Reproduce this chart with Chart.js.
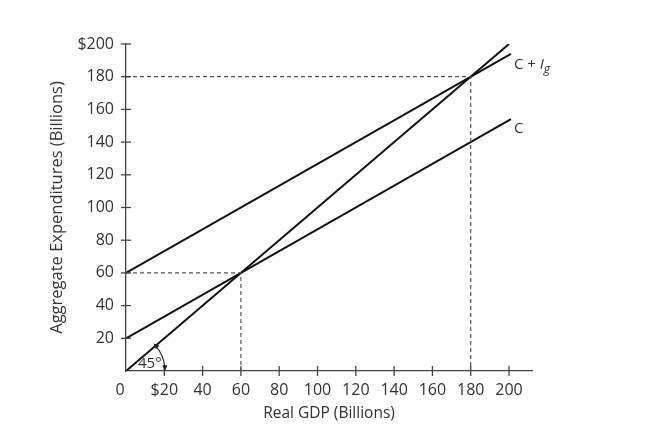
<!DOCTYPE html>
<html>
<head>
<meta charset="utf-8">
<script src="https://cdn.jsdelivr.net/npm/chart.js@4.4.1/dist/chart.umd.min.js"></script>
<style>
  html, body { margin: 0; padding: 0; background: #fff; }
  #wrap { width: 653px; height: 436px; position: relative; }
</style>
</head>
<body>
<div id="wrap"><canvas id="aeChart"></canvas></div>
<script>
// du lieu doc tu hinh
const gdpEnds = [0, 201];
const consumption = [20, 154];
const consumptionPlusInv = [60, 194];
const line45 = [0, 200];
const equilibria = [60, 180];
const xTicks = [20, 40, 60, 80, 100, 120, 140, 160, 180, 200];
const yTicks = [20, 40, 60, 80, 100, 120, 140, 160, 180, 200];

const FONT = '"Open Sans", sans-serif';
const TXT = '#333';

function toPts(xs, ys) {
    return xs.map((x, i) => ({ x: x, y: ys[i] }));
}

function dashPath(v) {
    return [{ x: 0, y: v }, { x: v, y: v }, { x: v, y: 0 }];
}

// ve vach chia cat qua truc, nhan duong va goc 45
const extras = {
    id: 'extras',
    afterDatasetsDraw(chart) {
        const ctx = chart.ctx;
        const xs = chart.scales.x, ys = chart.scales.y;
        const x0 = xs.getPixelForValue(0), y0 = ys.getPixelForValue(0);
        ctx.save();
        ctx.strokeStyle = '#444';
        ctx.lineWidth = 1.3;
        xTicks.forEach(v => {
            const px = xs.getPixelForValue(v);
            ctx.beginPath(); ctx.moveTo(px, y0 - 5); ctx.lineTo(px, y0 + 5); ctx.stroke();
        });
        yTicks.forEach(v => {
            const py = ys.getPixelForValue(v);
            ctx.beginPath(); ctx.moveTo(x0 - 5, py); ctx.lineTo(x0 + 5, py); ctx.stroke();
        });

        // so 0 o goc, lech trai mot chut
        ctx.fillStyle = TXT;
        ctx.font = '16px ' + FONT;
        ctx.textAlign = 'center';
        ctx.textBaseline = 'top';
        ctx.fillText('0', x0 - 6, y0 + 11);
        ctx.textAlign = 'left';

        // nhan C va C + Ig
        ctx.font = '15px ' + FONT;
        ctx.textBaseline = 'middle';
        const cx = xs.getPixelForValue(gdpEnds[1]) + 3;
        const cy = ys.getPixelForValue(consumption[1]) + 10;
        ctx.fillText('C', cx, cy);
        const ix = cx;
        const iy = ys.getPixelForValue(consumptionPlusInv[1]) + 11;
        ctx.fillText('C + ', ix, iy);
        let w = ctx.measureText('C + ').width;
        ctx.font = 'italic 15px ' + FONT;
        ctx.fillText('I', ix + w, iy);
        w += ctx.measureText('I').width;
        ctx.font = 'italic 12px ' + FONT;
        ctx.fillText('g', ix + w, iy + 5);

        // cung 45 do
        const r = 39;
        const a1 = -Math.PI / 4;
        ctx.strokeStyle = '#222';
        ctx.lineWidth = 1.1;
        ctx.beginPath();
        ctx.arc(x0, y0, r, a1 + 0.05, -0.05);
        ctx.stroke();
        ctx.fillStyle = '#222';
        // dau mui ten
        function arrow(ang, dir) {
            const px = x0 + r * Math.cos(ang), py = y0 + r * Math.sin(ang);
            const tx = -Math.sin(ang) * dir, ty = Math.cos(ang) * dir;
            const nx = Math.cos(ang), ny = Math.sin(ang);
            ctx.beginPath();
            ctx.moveTo(px + tx * 1, py + ty * 1);
            ctx.lineTo(px - tx * 5 + nx * 2.5, py - ty * 5 + ny * 2.5);
            ctx.lineTo(px - tx * 5 - nx * 2.5, py - ty * 5 - ny * 2.5);
            ctx.closePath();
            ctx.fill();
        }
        arrow(-0.02, 1);
        arrow(a1 + 0.02, -1);
        ctx.fillStyle = TXT;
        ctx.font = '15px ' + FONT;
        ctx.textBaseline = 'alphabetic';
        ctx.fillText('45°', x0 + 12, y0 - 3);
        ctx.restore();
    }
};

const dashStyle = {
    borderColor: '#555', borderWidth: 1.2, borderDash: [4, 3],
    pointRadius: 0, fill: false, tension: 0
};
const solidStyle = {
    borderColor: '#111', borderWidth: 2,
    pointRadius: 0, fill: false, tension: 0
};

new Chart(document.getElementById('aeChart'), {
    type: 'line',
    data: {
        datasets: [
            Object.assign({ data: dashPath(equilibria[0]) }, dashStyle),
            Object.assign({ data: dashPath(equilibria[1]) }, dashStyle),
            Object.assign({ data: toPts(line45, line45) }, solidStyle),
            Object.assign({ data: toPts(gdpEnds, consumption) }, solidStyle),
            Object.assign({ data: toPts(gdpEnds, consumptionPlusInv) }, solidStyle)
        ]
    },
    options: {
        responsive: true,
        maintainAspectRatio: false,
        animation: false,
        layout: { padding: { top: 44, right: 121, left: 43, bottom: 9 } },
        plugins: { legend: { display: false }, tooltip: { enabled: false } },
        scales: {
            x: {
                type: 'linear', min: 0, max: 212,
                afterFit: s => { s.height = 56; },
                afterBuildTicks: s => { s.ticks = xTicks.map(v => ({ value: v })); },
                grid: { display: false, drawTicks: false },
                border: { color: '#444', width: 1.3 },
                ticks: {
                    padding: 10, color: TXT, font: { family: FONT, size: 16 },
                    callback: v => v === 20 ? '$20' : String(v)
                },
                title: {
                    display: true, text: 'Real GDP (Billions)', color: TXT,
                    font: { family: FONT, size: 15.5 }, padding: 4
                }
            },
            y: {
                type: 'linear', min: 0, max: 200,
                afterFit: s => { s.width = 83; },
                afterBuildTicks: s => { s.ticks = yTicks.map(v => ({ value: v })); },
                grid: { display: false, drawTicks: false },
                border: { color: '#444', width: 1.3 },
                ticks: {
                    padding: 12, color: TXT, font: { family: FONT, size: 16 },
                    callback: v => v === 200 ? '$200' : String(v)
                },
                title: {
                    display: true, text: 'Aggregate Expenditures (Billions)', color: TXT,
                    font: { family: FONT, size: 16.5 }, padding: 4
                }
            }
        }
    },
    plugins: [extras]
});
</script>
</body>
</html>
